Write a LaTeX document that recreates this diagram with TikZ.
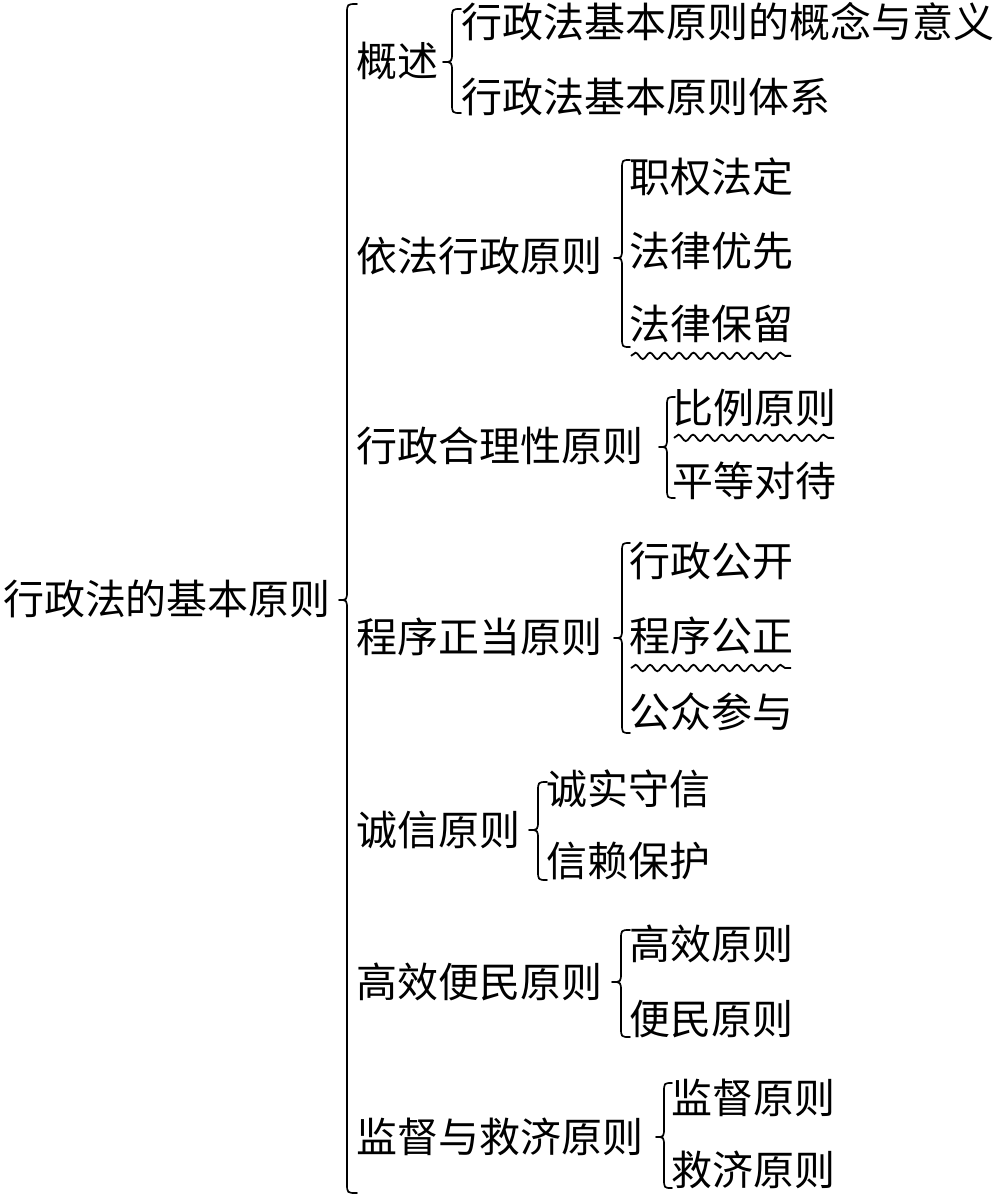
\documentclass[tikz,border=0pt]{standalone}
\usepackage{fontspec}
\setmainfont{Noto Sans CJK SC}
\usetikzlibrary{decorations.pathmorphing}
\tikzset{
  txt/.style={anchor=west, inner sep=0pt, outer sep=0pt, font=\fontsize{41}{48}\selectfont},
  bracestyle/.style={line width=1.7pt, line cap=round, line join=round},
  wavy/.style={line width=1.8pt, decorate, decoration={snake, segment length=14.5pt, amplitude=3.2pt}}
}
% #1 line x, #2 top, #3 tip y, #4 bottom, #5 tip depth, #6 curl width
\newcommand\mybrace[6]{%
  \draw[bracestyle] ({#1+#6},#2) .. controls (#1,#2) .. (#1,{#2+10})
    -- (#1,{#3-10}) .. controls (#1,#3) .. ({#1-#5},#3)
    .. controls (#1,#3) .. (#1,{#3+10})
    -- (#1,{#4-10}) .. controls (#1,#4) .. ({#1+#6},#4);}
\begin{document}
\begin{tikzpicture}[x=1pt,y=-1pt]
\useasboundingbox (0,0) rectangle (1003,1197);
% root
\node[txt] (root) at (3,599) {行政法的基本原则};
\mybrace{347}{4}{600}{1193}{8}{10}
% level 1
\node[txt] (g1) at (356,61) {概述};
\node[txt] (g2) at (356,256) {依法行政原则};
\node[txt] (g3) at (356,446) {行政合理性原则};
\node[txt] (g4) at (356,637) {程序正当原则};
\node[txt] (g5) at (356,830) {诚信原则};
\node[txt] (g6) at (356,982) {高效便民原则};
\node[txt] (g7) at (356,1137) {监督与救济原则};
% group 1
\mybrace{452}{9}{62}{113}{9}{9}
\node[txt] (a1) at (461,22) {行政法基本原则的概念与意义};
\node[txt] (a2) at (461,97) {行政法基本原则体系};
% group 2
\mybrace{622}{160}{258}{347}{8}{8}
\node[txt] (b1) at (629,177) {职权法定};
\node[txt] (b2) at (629,251) {法律优先};
\node[txt] (b3) at (629,324) {法律保留};
\draw[wavy] (b3.south west) ++(2,13) coordinate (w1s) -- ++(160,0) coordinate (w1e);
% group 3
\mybrace{667}{397}{447}{498}{8}{8}
\node[txt] (c1) at (672,408) {比例原则};
\node[txt] (c2) at (672,481) {平等对待};
\draw[wavy] (c1.south west) ++(2,11) coordinate (w2s) -- ++(160,0) coordinate (w2e);
% group 4
\mybrace{622}{543}{638}{733}{8}{8}
\node[txt] (d1) at (629,561) {行政公开};
\node[txt] (d2) at (629,636) {程序公正};
\node[txt] (d3) at (629,712) {公众参与};
\draw[wavy] (d2.south west) ++(2,13) coordinate (w3s) -- ++(160,0) coordinate (w3e);
% group 5
\mybrace{538}{782}{830}{880}{9}{9}
\node[txt] (e1) at (546,789) {诚实守信};
\node[txt] (e2) at (546,861) {信赖保护};
% group 6
\mybrace{621}{930}{982}{1037}{9}{9}
\node[txt] (f1) at (629,944) {高效原则};
\node[txt] (f2) at (629,1019) {便民原则};
% group 7
\mybrace{664}{1083}{1137}{1188}{8}{8}
\node[txt] (h1) at (671,1098) {监督原则};
\node[txt] (h2) at (671,1170) {救济原则};
\end{tikzpicture}
\end{document}
